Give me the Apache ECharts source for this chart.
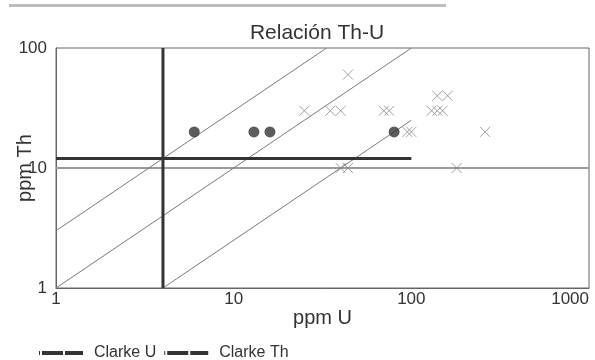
<!DOCTYPE html>
<html>
<head>
<meta charset="utf-8">
<script src="https://cdn.jsdelivr.net/npm/echarts@6/dist/echarts.min.js"></script>
<style>
  body { margin: 0; background: #fff; }
  #main { width: 595px; height: 360px; }
</style>
</head>
<body>
<div id="main"></div>
<script>
// datos
var circleU = [6, 13, 16, 80];
var circleTh = [20, 20, 20, 20];

var crossU = [25, 35, 40, 44, 70, 75, 130, 140, 150, 140, 160, 95, 100, 260, 180, 40, 44];
var crossTh = [30, 30, 30, 60, 30, 30, 30, 30, 30, 40, 40, 20, 20, 20, 10, 10, 10];

// valores de Clarke
var clarkeU = 4;
var clarkeTh = 12;

// relaciones Th/U
var ratios = [3, 1, 0.25];

function pairs(xs, ys) {
    return xs.map(function (x, i) { return [x, ys[i]]; });
}

var myChart = echarts.init(document.getElementById('main'));

var crossPath = 'path://M0,0L10,10M10,0L0,10';

var series = [];

// línea de referencia Th = 10
series.push({
    name: 'ref10',
    type: 'line',
    data: [[1, 10], [1000, 10]],
    symbol: 'none',
    lineStyle: { color: '#9a9a9a', width: 2 },
    silent: true,
    z: 1
});

// líneas Th/U
ratios.forEach(function (r) {
    var u0 = Math.max(1, 1 / r);
    var u1 = Math.min(100, 100 / r);
    series.push({
        name: 'ratio' + r,
        type: 'line',
        data: [[u0, u0 * r], [u1, u1 * r]],
        symbol: 'none',
        lineStyle: { color: '#7a7a7a', width: 1 },
        silent: true,
        z: 1
    });
});

series.push({
    name: 'Clarke U',
    type: 'line',
    data: [[clarkeU, 1], [clarkeU, 100]],
    symbol: 'none',
    lineStyle: { color: '#333', width: 3 },
    itemStyle: { color: '#333' },
    z: 2
});
series.push({
    name: 'Clarke Th',
    type: 'line',
    data: [[1, clarkeTh], [100, clarkeTh]],
    symbol: 'none',
    lineStyle: { color: '#333', width: 3 },
    itemStyle: { color: '#333' },
    z: 2
});

series.push({
    name: 'cruces',
    type: 'scatter',
    data: pairs(crossU, crossTh),
    symbol: crossPath,
    symbolSize: 10,
    itemStyle: { color: 'transparent', borderColor: '#8a8a8a', borderWidth: 1 },
    z: 3
});
series.push({
    name: 'circulos',
    type: 'scatter',
    data: pairs(circleU, circleTh),
    symbol: 'circle',
    symbolSize: 11,
    itemStyle: { color: '#333' },
    z: 4
});

// punto + dos guiones, como en el original
var legendIcon = 'path://M0,0L1,0L1,4L0,4ZM3,0L24,0L24,4L3,4ZM26,0L44,0L44,4L26,4Z';

var option = {
    backgroundColor: '#fff',
    animation: false,
    textStyle: { fontFamily: 'Liberation Sans, Arial, sans-serif' },
    title: {
        text: 'Relación Th-U',
        left: 312,
        textAlign: 'center',
        top: 18,
        textStyle: { fontSize: 21, fontWeight: 'normal', color: '#333' }
    },
    graphic: [{
        type: 'rect',
        shape: { x: 9, y: 4, width: 437, height: 3 },
        style: { fill: '#bdbdbd' }
    }],
    legend: {
        data: ['Clarke U', 'Clarke Th'],
        left: 34,
        top: 340,
        icon: legendIcon,
        itemWidth: 44,
        itemHeight: 4,
        itemGap: 8,
        textStyle: { fontSize: 16, color: '#333', padding: [0, 0, 0, 6] }
    },
    grid: {
        left: 56, top: 48, right: 6, bottom: 72,
        containLabel: false,
        outerBoundsMode: 'none',
        show: true,
        borderColor: '#666',
        borderWidth: 1
    },
    xAxis: {
        type: 'log',
        logBase: 10,
        min: 1,
        max: 1000,
        name: 'ppm U',
        nameLocation: 'middle',
        nameGap: 20,
        nameMoveOverlap: false,
        nameTextStyle: { fontSize: 20, color: '#333' },
        axisLine: { lineStyle: { color: '#666' } },
        axisTick: { show: false },
        splitLine: { show: false },
        minorTick: { show: false },
        axisLabel: {
            fontSize: 17, color: '#333', margin: 3,
            alignMaxLabel: 'right',
            formatter: function (v) { return String(v); }
        }
    },
    yAxis: {
        type: 'log',
        logBase: 10,
        min: 1,
        max: 100,
        name: 'ppm Th',
        nameLocation: 'middle',
        nameGap: 21,
        nameMoveOverlap: false,
        nameTextStyle: { fontSize: 20, color: '#333' },
        axisLine: { lineStyle: { color: '#666' } },
        axisTick: { show: false },
        splitLine: { show: false },
        minorTick: { show: false },
        axisLabel: {
            fontSize: 17, color: '#333', margin: 9,
            formatter: function (v) { return String(v); }
        }
    },
    series: series
};

myChart.setOption(option);
</script>
</body>
</html>
